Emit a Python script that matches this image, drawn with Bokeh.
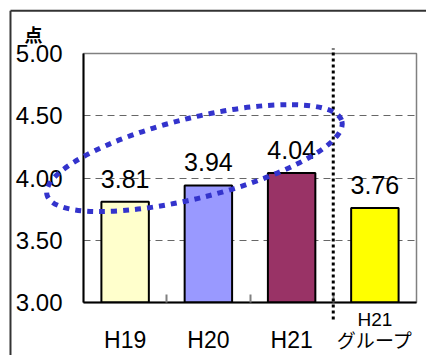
from bokeh.plotting import figure
from bokeh.models import ColumnDataSource, FixedTicker, Range1d, CustomJSTickFormatter, Title
from bokeh.core.properties import value
from bokeh.embed import file_html
from bokeh.resources import INLINE

# ---- data ----
categories = ["H19", "H20", "H21", "H21グループ"]
scores = [3.81, 3.94, 4.04, 3.76]
score_labels = ["3.81", "3.94", "4.04", "3.76"]
bar_colors = ["#FFFFCC", "#9999FF", "#993366", "#FFFF00"]
y_ticks = [3.0, 3.5, 4.0, 4.5, 5.0]
unit_label = "点"
group_line1 = "H21"
group_line2 = "グループ"

FONT = "Liberation Sans"
JP = "Noto Sans CJK JP"

xs = [i + 0.5 for i in range(len(categories))]
src = ColumnDataSource(dict(x=xs, top=scores, label=score_labels, color=bar_colors))

p = figure(width=426, height=355, output_backend="svg", toolbar_location=None,
           x_range=Range1d(0, 4), y_range=Range1d(3.0, 5.0),
           min_border_left=83, min_border_right=10, min_border_top=53, min_border_bottom=52)
p.background_fill_color = "white"
p.border_fill_color = "white"
p.outline_line_color = "#808080"
p.outline_line_width = 1.5

# unit label as a left-aligned title
p.title = Title(text=unit_label, align="left", offset=-59, standoff=14,
                text_font=JP, text_font_size="18px", text_font_style="bold",
                text_color="black")

# bars
p.vbar(x="x", top="top", bottom=3.0, width=0.57, source=src,
       fill_color="color", line_color="black", line_width=2)

# value labels
p.text(x="x", y="top", text="label", source=src, text_align="center",
       text_baseline="alphabetic", y_offset=-23, text_font=value(FONT),
       text_font_size="25px", text_color="black")

# x axis
xa = p.xaxis[0]
xa.ticker = FixedTicker(ticks=xs, minor_ticks=[1, 2, 3])
xa.major_label_overrides = {xs[0]: categories[0], xs[1]: categories[1],
                            xs[2]: categories[2], xs[3]: ""}
xa.major_tick_in = 0
xa.major_tick_out = 0
xa.minor_tick_in = 8
xa.minor_tick_out = 0
xa.minor_tick_line_color = "#808080"
xa.minor_tick_line_width = 2
xa.axis_line_color = "black"
xa.axis_line_width = 2
xa.major_label_text_font = FONT
xa.major_label_text_font_size = "23px"
xa.major_label_standoff = 24
xa.major_label_text_color = "black"

# y axis
ya = p.yaxis[0]
ya.ticker = FixedTicker(ticks=y_ticks)
ya.formatter = CustomJSTickFormatter(code="return tick.toFixed(2);")
ya.major_tick_in = 0
ya.major_tick_out = 0
ya.minor_tick_line_color = None
ya.axis_line_color = "black"
ya.axis_line_width = 2
ya.major_label_text_font = FONT
ya.major_label_text_font_size = "24px"
ya.major_label_standoff = 21
ya.major_label_text_color = "black"

# grid
p.xgrid.grid_line_color = None
p.ygrid.ticker = FixedTicker(ticks=y_ticks[1:])
p.ygrid.grid_line_color = "#666666"
p.ygrid.grid_line_dash = "7 5"
p.ygrid.grid_line_width = 1

# group label on two lines (drawn above the frame clip)
g1 = p.text(x=[xs[3]], y=[2.864], text=[group_line1], text_align="center",
            text_baseline="middle", text_font=value(FONT), text_font_size="19px",
            text_color="black")
g1.level = "overlay"
g2 = p.text(x=[xs[3]], y=[2.70], text=[group_line2], text_align="center",
            text_baseline="middle", text_font=value(JP), text_font_size="19px",
            text_color="black")
g2.level = "overlay"

# dotted separator
sep = p.segment(x0=[3.0], y0=[2.864], x1=[3.0], y1=[5.04], line_color="black",
                line_width=3, line_dash="3 3")
sep.level = "overlay"

# blue dotted ellipse
el = p.ellipse(x=[1.333], y=[4.16], width=[304], height=[80], angle=[14],
               angle_units="deg", width_units="screen", height_units="screen",
               fill_color=None, line_color="#3333CC", line_width=5, line_dash="6 6")
el.level = "overlay"

# outer frame
outer = p.segment(x0=[-0.877, -0.877], y0=[5.344, 5.344], x1=[4.2, -0.877], y1=[5.344, 2.4],
                  line_color="#333333", line_width=2)
outer.level = "overlay"

open("out.html", "w").write(file_html(p, INLINE))
